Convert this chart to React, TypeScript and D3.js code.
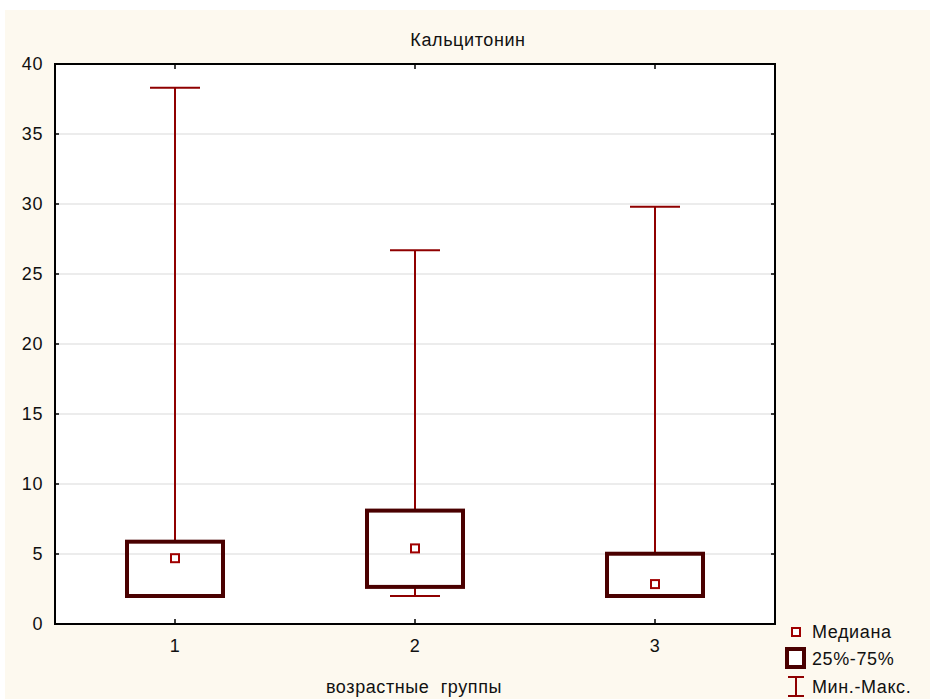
import React from "react";
import * as d3 from "d3";

const groups = [1, 2, 3];
const groupLabels = ["1", "2", "3"];
const medians = [4.7, 5.4, 2.85];
const q1 = [2.0, 2.65, 2.0];
const q3 = [5.88, 8.1, 5.02];
const mins = [2.0, 2.0, 2.0];
const maxs = [38.3, 26.7, 29.8];
const yTicks = [0, 5, 10, 15, 20, 25, 30, 35, 40];

const title = "Кальцитонин";
const xTitle = "возрастные  группы";
const legendLabels = ["Медиана", "25%-75%", "Мин.-Макс."];

const W = 930, H = 699;
const L = 55, R = 775, T = 64, B = 624;
const font = "'Liberation Sans', Arial, sans-serif";
const boxColor = "#4a0000";
const whiskerColor = "#8f0000";
const medColor = "#a00000";

export default function App() {
  const x = d3.scaleLinear().domain([0.5, 3.5]).range([L, R]);
  const y = d3.scaleLinear().domain([0, 40]).range([B, T]);
  const boxHalf = (x(1.2) - x(1)) ;
  const capHalf = 25;
  const txt = { fontFamily: font, fontSize: 18, letterSpacing: 0.6, fill: "#111" } as const;
  return (
    <svg width={W} height={H} style={{ position: "absolute", left: 0, top: 0 }}>
      <rect x={0} y={0} width={W} height={H} fill="#ffffff" />
      <rect x={5} y={10} width={W - 5} height={H - 10} fill="#fdf9ef" />
      <rect x={L} y={T} width={R - L} height={B - T} fill="#ffffff" />
      {yTicks.filter(t => t > 0 && t < 40).map(t => (
        <line key={"g" + t} x1={L} x2={R} y1={y(t)} y2={y(t)} stroke="#d9d9d9" strokeWidth={1} />
      ))}
      {yTicks.map(t => (
        <g key={"t" + t}>
          <line x1={L} x2={L + 4} y1={y(t)} y2={y(t)} stroke="#000" strokeWidth={1.5} />
          <line x1={R - 4} x2={R} y1={y(t)} y2={y(t)} stroke="#000" strokeWidth={1.5} />
          <text x={43} y={y(t) + 6} textAnchor="end" {...txt}>{t}</text>
        </g>
      ))}
      {groups.map((g, i) => (
        <g key={"x" + g}>
          <line x1={x(g)} x2={x(g)} y1={B} y2={B - 5} stroke="#000" strokeWidth={1.5} />
          <line x1={x(g)} x2={x(g)} y1={T} y2={T + 5} stroke="#000" strokeWidth={1.5} />
          <text x={x(g)} y={652} textAnchor="middle" {...txt}>{groupLabels[i]}</text>
        </g>
      ))}
      {groups.map((g, i) => (
        <g key={"b" + g}>
          <line x1={x(g)} x2={x(g)} y1={y(maxs[i])} y2={y(q3[i])} stroke={whiskerColor} strokeWidth={2} />
          <line x1={x(g)} x2={x(g)} y1={y(q1[i])} y2={y(mins[i])} stroke={whiskerColor} strokeWidth={2} />
          <line x1={x(g) - capHalf} x2={x(g) + capHalf} y1={y(maxs[i])} y2={y(maxs[i])} stroke={whiskerColor} strokeWidth={2} />
          <line x1={x(g) - capHalf} x2={x(g) + capHalf} y1={y(mins[i])} y2={y(mins[i])} stroke={whiskerColor} strokeWidth={2} />
          <rect x={x(g) - boxHalf} y={y(q3[i])} width={2 * boxHalf} height={y(q1[i]) - y(q3[i])}
            fill="none" stroke={boxColor} strokeWidth={4} />
          <rect x={x(g) - 4} y={y(medians[i]) - 4} width={8} height={8} fill="#fff" stroke={medColor} strokeWidth={2} />
        </g>
      ))}
      <rect x={L} y={T} width={R - L} height={B - T} fill="none" stroke="#000" strokeWidth={2} />
      <text x={468} y={46} textAnchor="middle" {...txt}>{title}</text>
      <text x={414} y={693} textAnchor="middle" style={{ whiteSpace: "pre" }} {...txt}>{xTitle}</text>
      <rect x={792} y={628} width={8} height={8} fill="#fff" stroke={medColor} strokeWidth={2} />
      <text x={812} y={638} {...txt}>{legendLabels[0]}</text>
      <rect x={787} y={649} width={17} height={18} fill="#fff" stroke={boxColor} strokeWidth={4} />
      <text x={812} y={665} {...txt}>{legendLabels[1]}</text>
      <line x1={796} x2={796} y1={677} y2={696} stroke={whiskerColor} strokeWidth={2} />
      <line x1={788} x2={804} y1={677} y2={677} stroke={whiskerColor} strokeWidth={2} />
      <line x1={788} x2={804} y1={696} y2={696} stroke={whiskerColor} strokeWidth={2} />
      <text x={812} y={693} {...txt}>{legendLabels[2]}</text>
    </svg>
  );
}
